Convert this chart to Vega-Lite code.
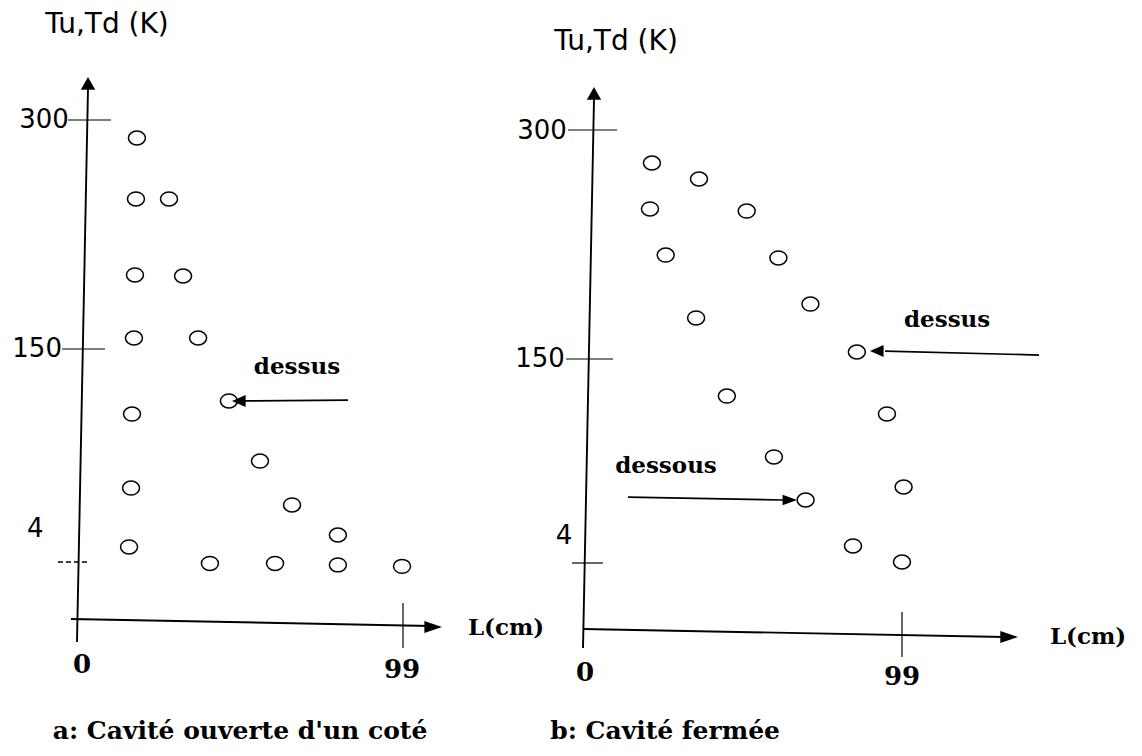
{
  "$schema": "https://vega.github.io/schema/vega-lite/v6.json",
  "padding": 0,
  "spacing": 0,
  "bounds": "flush",
  "background": "white",
  "config": {"view": {"stroke": null}},
  "datasets": {
    "points_a": [
      {"L": 17.7, "T": 288.2}, {"L": 17.4, "T": 248.3}, {"L": 27.5, "T": 248.3},
      {"L": 17.1, "T": 198.5}, {"L": 31.8, "T": 197.8}, {"L": 16.8, "T": 157.2},
      {"L": 36.4, "T": 157.2}, {"L": 45.8, "T": 114.4}, {"L": 16.2, "T": 105.4},
      {"L": 55.3, "T": 73.2}, {"L": 15.9, "T": 54.7}, {"L": 65.1, "T": 43.1},
      {"L": 79.1, "T": 22.5}, {"L": 15.3, "T": 14.3}, {"L": 40.0, "T": 3.9},
      {"L": 59.9, "T": 3.9}, {"L": 79.1, "T": 3.8}, {"L": 98.7, "T": 3.7}
    ],
    "points_b": [
      {"L": 20.9, "T": 278.4}, {"L": 35.6, "T": 267.9}, {"L": 20.3, "T": 248.3},
      {"L": 50.5, "T": 246.9}, {"L": 25.2, "T": 218.1}, {"L": 60.4, "T": 216.2},
      {"L": 70.4, "T": 186.0}, {"L": 34.7, "T": 176.9}, {"L": 84.9, "T": 154.6},
      {"L": 44.3, "T": 123.5}, {"L": 94.3, "T": 110.7}, {"L": 59.0, "T": 79.9},
      {"L": 99.5, "T": 58.4}, {"L": 68.9, "T": 49.1}, {"L": 83.7, "T": 16.2},
      {"L": 99.0, "T": 4.7}
    ],
    "lines_a": [
      {"kind": "axis", "L": -0.61, "T": -1.52, "L2": 2.75, "T2": 321.0},
      {"kind": "axis", "L": -2.44, "T": 0.07, "L2": 107.25, "T2": -0.41},
      {"kind": "tick", "L": -3.36, "T": 300, "L2": 9.78, "T2": 300},
      {"kind": "tick", "L": -5.19, "T": 150, "L2": 7.94, "T2": 150},
      {"kind": "tick", "L": 99, "T": 1.17, "L2": 99, "T2": -1.93},
      {"kind": "dashed", "L": -6.42, "T": 4, "L2": 2.75, "T2": 4},
      {"kind": "arrow", "L": 82.2, "T": 115.0, "L2": 50.4, "T2": 114.4}
    ],
    "lines_b": [
      {"kind": "axis", "L": -0.62, "T": -1.07, "L2": 2.81, "T2": 320.3},
      {"kind": "axis", "L": -0.62, "T": 0.06, "L2": 130.9, "T2": -0.42},
      {"kind": "tick", "L": -5.31, "T": 300, "L2": 9.99, "T2": 300},
      {"kind": "tick", "L": -5.93, "T": 150, "L2": 8.74, "T2": 150},
      {"kind": "tick", "L": -4.06, "T": 4, "L2": 5.62, "T2": 4},
      {"kind": "tick", "L": 99, "T": 1.07, "L2": 99, "T2": -1.61},
      {"kind": "arrow", "L": 141.8, "T": 152.6, "L2": 93.7, "T2": 155.2},
      {"kind": "arrow", "L": 13.4, "T": 51.2, "L2": 61.8, "T2": 49.1}
    ],
    "heads_a": [
      {"dir": "up", "L": 2.75, "T": 328.2},
      {"dir": "right", "L": 110.9, "T": -0.48},
      {"dir": "left", "L": 46.75, "T": 114.4}
    ],
    "heads_b": [
      {"dir": "up", "L": 2.81, "T": 328.2},
      {"dir": "right", "L": 135.2, "T": -0.42},
      {"dir": "left", "L": 89.0, "T": 155.2},
      {"dir": "rightsmall", "L": 66.2, "T": 49.1}
    ],
    "labels_a": [
      {"role": "ytick", "L": -10.7, "T": 300, "text": "300"},
      {"role": "ytick", "L": -12.8, "T": 150, "text": "150"},
      {"role": "ytick", "L": -13.4, "T": 26.6, "text": "4"},
      {"role": "ytitle", "L": 8.56, "T": 362.2, "text": "Tu,Td (K)"},
      {"role": "xtick", "L": 0.92, "T": -3.1, "text": "0"},
      {"role": "xtick", "L": 98.7, "T": -3.45, "text": "99"},
      {"role": "serif", "L": 130.5, "T": -0.55, "text": "L(cm)"},
      {"role": "serif", "L": 66.6, "T": 137.7, "text": "dessus"},
      {"role": "caption", "L": 49.2, "T": -7.66, "text": "a: Cavité ouverte d'un coté"}
    ],
    "labels_b": [
      {"role": "ytick", "L": -13.4, "T": 299.3, "text": "300"},
      {"role": "ytick", "L": -14.05, "T": 150, "text": "150"},
      {"role": "ytick", "L": -6.56, "T": 23.3, "text": "4"},
      {"role": "ytitle", "L": 9.7, "T": 357.6, "text": "Tu,Td (K)"},
      {"role": "xtick", "L": 0, "T": -2.57, "text": "0"},
      {"role": "xtick", "L": 99, "T": -2.81, "text": "99"},
      {"role": "serif", "L": 157.1, "T": -0.42, "text": "L(cm)"},
      {"role": "serif", "L": 113.1, "T": 175.5, "text": "dessus"},
      {"role": "serif", "L": 25.3, "T": 73.4, "text": "dessous"},
      {"role": "caption", "L": 25.0, "T": -6.03, "text": "b: Cavité fermée"}
    ]
  },
  "hconcat": [
    {
      "width": 540,
      "height": 756,
      "encoding": {
        "x": {"field": "L", "type": "quantitative", "axis": null,
              "scale": {"domain": [0, 99], "range": [79, 403], "nice": false, "zero": false}},
        "y": {"field": "T", "type": "quantitative", "axis": null,
              "scale": {"domain": [0, 4, 150, 300], "range": [620, 562, 349, 120], "nice": false, "zero": false}}
      },
      "layer": [
        {"data": {"name": "lines_a"}, "transform": [{"filter": "datum.kind === 'axis'"}],
         "mark": {"type": "rule", "color": "black", "strokeWidth": 1.9},
         "encoding": {"x2": {"field": "L2"}, "y2": {"field": "T2"}}},
        {"data": {"name": "lines_a"}, "transform": [{"filter": "datum.kind === 'tick'"}],
         "mark": {"type": "rule", "color": "black", "strokeWidth": 1.2},
         "encoding": {"x2": {"field": "L2"}, "y2": {"field": "T2"}}},
        {"data": {"name": "lines_a"}, "transform": [{"filter": "datum.kind === 'dashed'"}],
         "mark": {"type": "rule", "color": "black", "strokeWidth": 1.6, "strokeDash": [5, 3]},
         "encoding": {"x2": {"field": "L2"}, "y2": {"field": "T2"}}},
        {"data": {"name": "lines_a"}, "transform": [{"filter": "datum.kind === 'arrow'"}],
         "mark": {"type": "rule", "color": "black", "strokeWidth": 1.7},
         "encoding": {"x2": {"field": "L2"}, "y2": {"field": "T2"}}},
        {"data": {"name": "points_a"},
         "mark": {"type": "point", "shape": "M-1,0A1,0.82 0 1,1 1,0A1,0.82 0 1,1 -1,0Z", "size": 289,
                  "filled": false, "color": "black", "strokeWidth": 1.5, "opacity": 1}},
        {"data": {"name": "heads_a"},
         "mark": {"type": "point", "filled": true, "size": 256, "color": "black", "opacity": 1, "strokeWidth": 0},
         "encoding": {"shape": {"field": "dir", "type": "nominal", "legend": null,
           "scale": {"domain": ["up", "right", "left", "rightsmall"],
                     "range": ["M0,0L0.9,1.6L-0.9,1.6Z", "M0,0L-2.2,-0.75L-2.2,0.75Z", "M0,0L1.7,-0.75L1.7,0.75Z", "M0,0L-1.8,-0.65L-1.8,0.65Z"]}}}},
        {"data": {"name": "labels_a"}, "transform": [{"filter": "datum.role === 'ytick'"}],
         "mark": {"type": "text", "font": "DejaVu Sans", "fontSize": 26, "align": "center", "baseline": "middle", "color": "black"},
         "encoding": {"text": {"field": "text"}}},
        {"data": {"name": "labels_a"}, "transform": [{"filter": "datum.role === 'ytitle'"}],
         "mark": {"type": "text", "font": "DejaVu Sans", "fontSize": 28, "align": "center", "baseline": "middle", "color": "black"},
         "encoding": {"text": {"field": "text"}}},
        {"data": {"name": "labels_a"}, "transform": [{"filter": "datum.role === 'xtick'"}],
         "mark": {"type": "text", "font": "DejaVu Serif", "fontWeight": "bold", "fontSize": 26, "align": "center", "baseline": "middle", "color": "black"},
         "encoding": {"text": {"field": "text"}}},
        {"data": {"name": "labels_a"}, "transform": [{"filter": "datum.role === 'serif'"}],
         "mark": {"type": "text", "font": "DejaVu Serif", "fontWeight": "bold", "fontSize": 23, "align": "center", "baseline": "middle", "color": "black"},
         "encoding": {"text": {"field": "text"}}},
        {"data": {"name": "labels_a"}, "transform": [{"filter": "datum.role === 'caption'"}],
         "mark": {"type": "text", "font": "DejaVu Serif", "fontWeight": "bold", "fontSize": 25, "align": "center", "baseline": "middle", "color": "black"},
         "encoding": {"text": {"field": "text"}}}
      ]
    },
    {
      "width": 602,
      "height": 756,
      "encoding": {
        "x": {"field": "L", "type": "quantitative", "axis": null,
              "scale": {"domain": [0, 99], "range": [45, 362], "nice": false, "zero": false}},
        "y": {"field": "T", "type": "quantitative", "axis": null,
              "scale": {"domain": [0, 4, 150, 300], "range": [630, 563, 359, 130], "nice": false, "zero": false}}
      },
      "layer": [
        {"data": {"name": "lines_b"}, "transform": [{"filter": "datum.kind === 'axis'"}],
         "mark": {"type": "rule", "color": "black", "strokeWidth": 1.9},
         "encoding": {"x2": {"field": "L2"}, "y2": {"field": "T2"}}},
        {"data": {"name": "lines_b"}, "transform": [{"filter": "datum.kind === 'tick'"}],
         "mark": {"type": "rule", "color": "black", "strokeWidth": 1.2},
         "encoding": {"x2": {"field": "L2"}, "y2": {"field": "T2"}}},
        {"data": {"name": "lines_b"}, "transform": [{"filter": "datum.kind === 'arrow'"}],
         "mark": {"type": "rule", "color": "black", "strokeWidth": 1.7},
         "encoding": {"x2": {"field": "L2"}, "y2": {"field": "T2"}}},
        {"data": {"name": "points_b"},
         "mark": {"type": "point", "shape": "M-1,0A1,0.82 0 1,1 1,0A1,0.82 0 1,1 -1,0Z", "size": 289,
                  "filled": false, "color": "black", "strokeWidth": 1.5, "opacity": 1}},
        {"data": {"name": "heads_b"},
         "mark": {"type": "point", "filled": true, "size": 256, "color": "black", "opacity": 1, "strokeWidth": 0},
         "encoding": {"shape": {"field": "dir", "type": "nominal", "legend": null,
           "scale": {"domain": ["up", "right", "left", "rightsmall"],
                     "range": ["M0,0L0.9,1.6L-0.9,1.6Z", "M0,0L-2.2,-0.75L-2.2,0.75Z", "M0,0L1.7,-0.75L1.7,0.75Z", "M0,0L-1.8,-0.65L-1.8,0.65Z"]}}}},
        {"data": {"name": "labels_b"}, "transform": [{"filter": "datum.role === 'ytick'"}],
         "mark": {"type": "text", "font": "DejaVu Sans", "fontSize": 26, "align": "center", "baseline": "middle", "color": "black"},
         "encoding": {"text": {"field": "text"}}},
        {"data": {"name": "labels_b"}, "transform": [{"filter": "datum.role === 'ytitle'"}],
         "mark": {"type": "text", "font": "DejaVu Sans", "fontSize": 28, "align": "center", "baseline": "middle", "color": "black"},
         "encoding": {"text": {"field": "text"}}},
        {"data": {"name": "labels_b"}, "transform": [{"filter": "datum.role === 'xtick'"}],
         "mark": {"type": "text", "font": "DejaVu Serif", "fontWeight": "bold", "fontSize": 26, "align": "center", "baseline": "middle", "color": "black"},
         "encoding": {"text": {"field": "text"}}},
        {"data": {"name": "labels_b"}, "transform": [{"filter": "datum.role === 'serif'"}],
         "mark": {"type": "text", "font": "DejaVu Serif", "fontWeight": "bold", "fontSize": 23, "align": "center", "baseline": "middle", "color": "black"},
         "encoding": {"text": {"field": "text"}}},
        {"data": {"name": "labels_b"}, "transform": [{"filter": "datum.role === 'caption'"}],
         "mark": {"type": "text", "font": "DejaVu Serif", "fontWeight": "bold", "fontSize": 25, "align": "center", "baseline": "middle", "color": "black"},
         "encoding": {"text": {"field": "text"}}}
      ]
    }
  ]
}
